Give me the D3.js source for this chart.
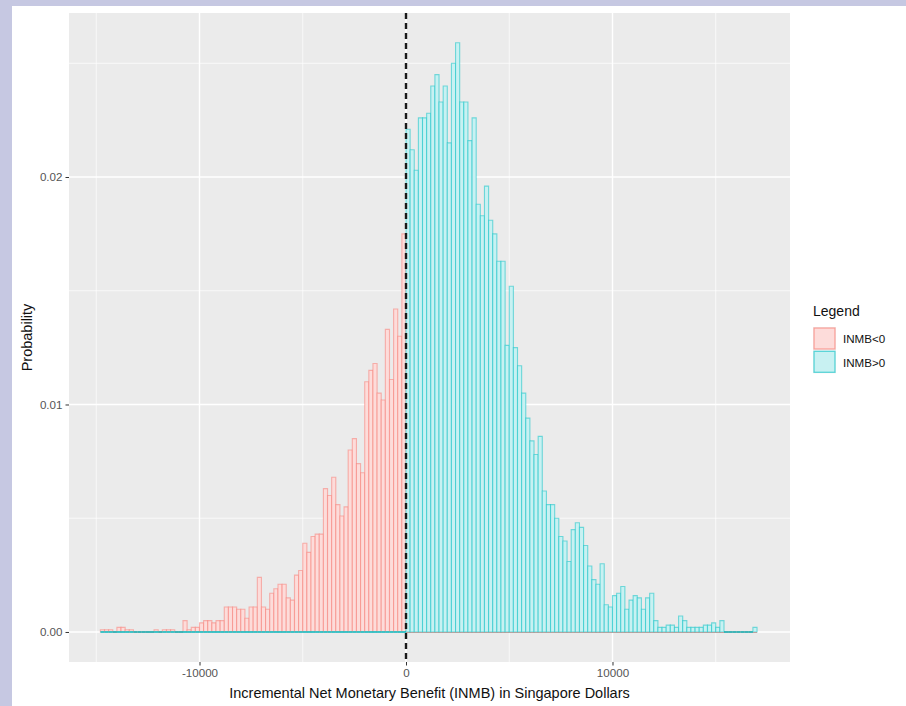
<!DOCTYPE html>
<html>
<head>
<meta charset="utf-8">
<script src="https://cdn.jsdelivr.net/npm/d3@7"></script>
<style>
body { margin: 0; background: #c6c8e2; }
svg { display: block; }
text { font-family: "Liberation Sans", Arial, sans-serif; }
</style>
</head>
<body>
<script>
// histogram bins: width 200, first bin starts at -14800, 0 is a bin edge
const binWidth = 200
const binStart = -14800

// probability per bin, INMB<0 (bins -14800 .. 0)
const negProb = [
  0.0001, 0.0001, 0.0001, 0, 0.0002, 0.0002, 0.0001, 0.0001, 0, 0,
  0, 0, 0, 0.0001, 0, 0.0001, 0.0001, 0.0001, 0, 0,
  0.0005, 0.0001, 0.0002, 0.0002, 0.0004, 0.0005, 0.0005, 0.0004, 0.0005, 0.0005,
  0.0011, 0.0011, 0.0011, 0.0010, 0.0010, 0.0006, 0.0011, 0.0011, 0.0024, 0.0011,
  0.0010, 0.0017, 0.0019, 0.0021, 0.0021, 0.0015, 0.0014, 0.0025, 0.0027, 0.0039,
  0.0035, 0.0042, 0.0043, 0.0043, 0.0063, 0.0060, 0.0068, 0.0056, 0.0051, 0.0055,
  0.0080, 0.0085, 0.0074, 0.0070, 0.0110, 0.0115, 0.0118, 0.0105, 0.0102, 0.0133,
  0.0111, 0.0142, 0.0130, 0.0175
]

// probability per bin, INMB>0 (bins 0 .. 17000)
const posProb = [
  0.0221, 0.0212, 0.0203, 0.0226, 0.0226, 0.0228, 0.0240, 0.0245, 0.0233, 0.0240,
  0.0215, 0.0250, 0.0259, 0.0233, 0.0233, 0.0216, 0.0226, 0.0188, 0.0183, 0.0196,
  0.0181, 0.0175, 0.0163, 0.0163, 0.0126, 0.0152, 0.0125, 0.0117, 0.0105, 0.0094,
  0.0084, 0.0078, 0.0086, 0.0062, 0.0056, 0.0056, 0.0050, 0.0042, 0.0040, 0.0031,
  0.0045, 0.0048, 0.0046, 0.0038, 0.0029, 0.0023, 0.0021, 0.0030, 0.0012, 0.0011,
  0.0016, 0.0017, 0.0020, 0.0010, 0.0014, 0.0016, 0.0015, 0.0010, 0.0015, 0.0017,
  0.0005, 0.0002, 0.0002, 0.0003, 0.0003, 0.0002, 0.0007, 0.0005, 0.0002, 0.0002,
  0.0002, 0.0002, 0.0003, 0.0003, 0.0004, 0.0002, 0.0005, 0, 0, 0,
  0, 0, 0, 0, 0.0002
]

const groups = ["INMB<0", "INMB>0"]
const lineColors = ["#F8766D", "#00BFC4"]
const fillColors = ["#fddcda", "#c8f1f2"]

const xTicks = [-10000, 0, 10000]
const xMinor = [-15000, -5000, 5000, 15000]
const yTicks = [0, 0.01, 0.02]
const yMinor = [0.005, 0.015, 0.025]

const xTitle = "Incremental Net Monetary Benefit (INMB) in Singapore Dollars"
const yTitle = "Probability"
const legendTitle = "Legend"

const W = 906, H = 706

const svg = d3.select("body").append("svg")
        .attr("width", W)
        .attr("height", H)

// lavender frame + white plot background
svg.append("rect").attr("width", W).attr("height", H).attr("fill", "#c6c8e2")
svg.append("rect").attr("x", 12).attr("y", 6)
        .attr("width", W - 12).attr("height", H - 6).attr("fill", "#ffffff")

const x = d3.scaleLinear().domain([-16320, 18596]).range([69, 790])
const y = d3.scaleLinear().domain([-0.00132, 0.02721]).range([662, 13])

// panel
svg.append("rect")
        .attr("x", x.range()[0]).attr("y", y.range()[1])
        .attr("width", x.range()[1] - x.range()[0])
        .attr("height", y.range()[0] - y.range()[1])
        .attr("fill", "#EBEBEB")

const grid = svg.append("g").attr("class", "grid")
grid.selectAll("line.xminor").data(xMinor).enter().append("line")
        .attr("x1", d => x(d)).attr("x2", d => x(d))
        .attr("y1", y.range()[1]).attr("y2", y.range()[0])
        .attr("stroke", "#fff").attr("stroke-width", 0.7)
grid.selectAll("line.yminor").data(yMinor).enter().append("line")
        .attr("y1", d => y(d)).attr("y2", d => y(d))
        .attr("x1", x.range()[0]).attr("x2", x.range()[1])
        .attr("stroke", "#fff").attr("stroke-width", 0.7)
grid.selectAll("line.xmajor").data(xTicks).enter().append("line")
        .attr("x1", d => x(d)).attr("x2", d => x(d))
        .attr("y1", y.range()[1]).attr("y2", y.range()[0])
        .attr("stroke", "#fff").attr("stroke-width", 1.4)
grid.selectAll("line.ymajor").data(yTicks).enter().append("line")
        .attr("y1", d => y(d)).attr("y2", d => y(d))
        .attr("x1", x.range()[0]).attr("x2", x.range()[1])
        .attr("stroke", "#fff").attr("stroke-width", 1.4)

// bins for both groups over the full range
const nBins = negProb.length + posProb.length
const edges = d3.range(nBins).map(i => binStart + i * binWidth)
const groupValues = [
        negProb.concat(posProb.map(() => 0)),
        negProb.map(() => 0).concat(posProb)
]

groups.forEach(function(g, gi) {
        const bins = edges.map((e, i) => ({ x0: e, x1: e + binWidth, p: groupValues[gi][i] }))
        svg.append("g").attr("class", "hist " + g)
                .selectAll("path").data(bins).enter().append("path")
                .attr("d", function(d) {
                        return "M" + x(d.x0) + "," + y(0) + "V" + y(d.p) +
                                "H" + x(d.x1) + "V" + y(0) + "Z"
                })
                .attr("fill", fillColors[gi])
                .attr("stroke", lineColors[gi])
                // empty bins collapse to a line on the baseline
                .attr("stroke-opacity", d => d.p === 0 ? 0.75 : 0.5)
                .attr("stroke-width", d => d.p === 0 ? 2 : 1.1)
})

// dashed line at zero
svg.append("line")
        .attr("x1", x(0)).attr("x2", x(0))
        .attr("y1", y.range()[1]).attr("y2", y.range()[0])
        .attr("stroke", "#1a1a1a").attr("stroke-width", 2.4)
        .attr("stroke-dasharray", "6,4")

// axes
const xAxis = svg.append("g")
        .attr("transform", "translate(0," + y.range()[0] + ")")
        .call(d3.axisBottom(x).tickValues(xTicks).tickFormat(d => String(d))
                .tickSize(3.5).tickPadding(3))
const yAxis = svg.append("g")
        .attr("transform", "translate(" + x.range()[0] + ",0)")
        .call(d3.axisLeft(y).tickValues(yTicks).tickFormat(d3.format(".2f"))
                .tickSize(3.5).tickPadding(3))
;[xAxis, yAxis].forEach(function(a) {
        a.select(".domain").remove()
        a.selectAll(".tick line").attr("stroke", "#333")
        a.selectAll(".tick text").attr("fill", "#555")
                .style("font-size", "11.6px")
                .style("font-family", "'Liberation Sans', Arial, sans-serif")
})

svg.append("text")
        .attr("x", (x.range()[0] + x.range()[1]) / 2).attr("y", 698)
        .attr("text-anchor", "middle").attr("font-size", 14.5).attr("fill", "#111")
        .text(xTitle)
svg.append("text")
        .attr("transform", "translate(32," + (y.range()[0] + y.range()[1]) / 2 + ") rotate(-90)")
        .attr("text-anchor", "middle").attr("font-size", 14.5).attr("fill", "#111")
        .text(yTitle)

// legend
const legend = svg.append("g").attr("transform", "translate(813,0)")
legend.append("text").attr("x", 0).attr("y", 316)
        .attr("font-size", 14).attr("fill", "#111").text(legendTitle)
const keys = legend.selectAll("g.key").data(groups).enter().append("g")
        .attr("transform", (d, i) => "translate(0," + (327 + i * 23.3) + ")")
keys.append("rect").attr("width", 23).attr("height", 23).attr("fill", "#F2F2F2")
keys.append("rect").attr("x", 1).attr("y", 1).attr("width", 21).attr("height", 21)
        .attr("fill", (d, i) => fillColors[i])
        .attr("stroke", (d, i) => lineColors[i])
        .attr("stroke-opacity", 0.6)
        .attr("stroke-width", 1.3)
keys.append("text").attr("x", 30).attr("y", 11.8)
        .attr("dominant-baseline", "central")
        .attr("font-size", 11.6).attr("fill", "#111")
        .text(d => d)
</script>
</body>
</html>
